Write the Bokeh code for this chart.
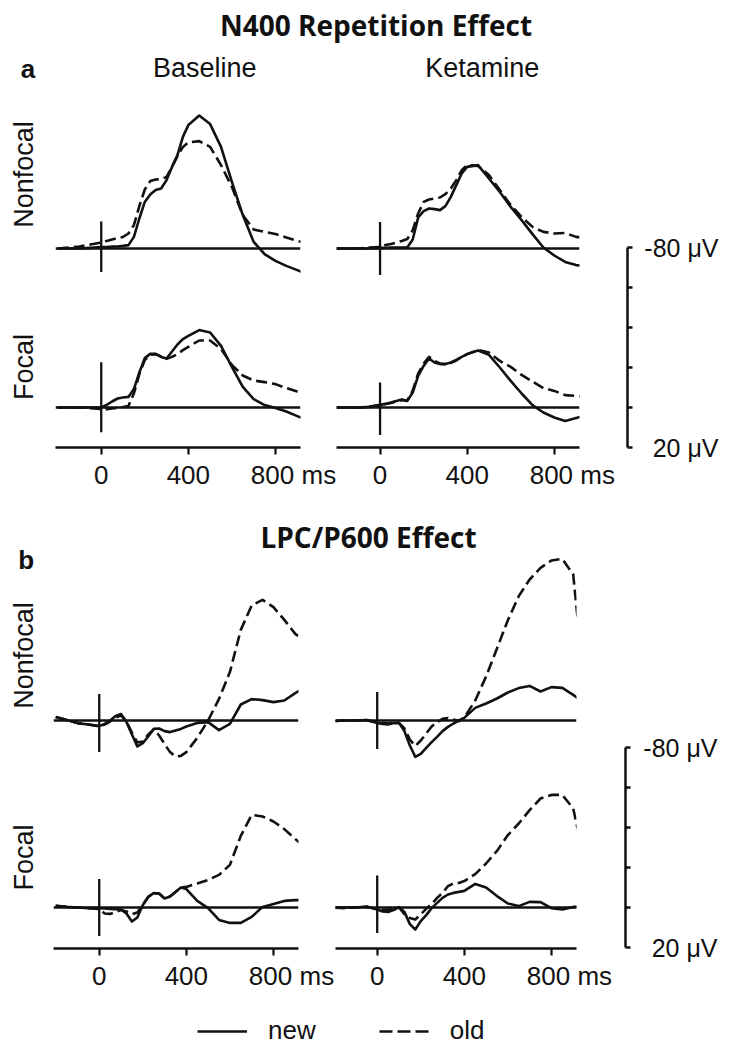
import math
from bokeh.plotting import figure
from bokeh.layouts import row, column
from bokeh.models import Range1d, Span, FixedTicker, Legend, LegendItem
from bokeh.core.properties import value
from bokeh.embed import file_html
from bokeh.resources import INLINE

# ---------------- data (µV, negative plotted up) ----------------
times_ms = [-200, -150, -100, -50, 0, 25, 50, 75, 100, 125, 150, 175, 200, 225, 250, 275,
            300, 325, 350, 375, 400, 450, 500, 550, 600, 650, 700, 750, 800, 850, 900, 920]

# a: N400 repetition effect
a_base_nonfocal_new = [0, 0, 0, -0.3, -0.7, -0.7, -1, -1, -1.3, -1.7, -5.8, -15, -23.3, -27, -29.2, -30,
                       -34.2, -40.8, -46.7, -55.8, -61.7, -66.5, -62.2, -50.8, -33.3, -16.7, -3.3, 2.8, 6.2, 8.7, 10.8, 11.7]
a_base_nonfocal_old = [0, -0.5, -1, -2, -3, -3.8, -4.5, -5.2, -5.8, -7.5, -11.7, -21.2, -29.5, -33.7, -34.5, -34.7,
                       -35.8, -40.8, -46.2, -50.8, -53, -53.7, -50.8, -41.7, -30.8, -16.7, -9.5, -8.3, -7.2, -5.5, -3.8, -3.3]
a_ket_nonfocal_new = [0, 0, 0, 0, -0.3, -0.3, -0.5, -0.5, -0.5, -0.5, -4.5, -15.5, -18.7, -20, -19.7, -19.2,
                      -21.2, -25.8, -31.7, -37.5, -40.8, -41.7, -35, -28.3, -20.8, -14.2, -7.2, -0.5, 3.5, 6.7, 8.3, 8.5]
a_ket_nonfocal_old = [0, 0, 0, -0.5, -0.8, -1.7, -2.3, -3, -3.8, -4.7, -9.2, -17.5, -23.3, -24.5, -25, -25.5,
                      -27.2, -30, -34.2, -39.2, -41.7, -41.3, -36.7, -29.2, -21.7, -15.8, -10.8, -8.3, -7.5, -7.8, -5.8, -5.5]
a_base_focal_new = [0, 0, 0, 0, 0, -1.3, -3, -4.5, -5, -5.3, -9.2, -17.5, -24.7, -26.8, -26.8, -25.3,
                    -24.5, -28, -31.5, -34.2, -35.8, -38.7, -37.5, -30.8, -20.3, -10.3, -4.2, -1.2, 0.2, 2, 4.3, 5.2]
a_base_focal_old = [0, 0, 0, 0.3, 0.8, 0.8, 0.5, 0.2, -0.2, -0.8, -7, -16.7, -23.7, -26.3, -26.7, -25.5,
                    -24.3, -25.3, -26.7, -28.7, -30.3, -33.5, -33.5, -29.2, -21.3, -16, -13.5, -12.7, -11.7, -9.7, -8, -7.7]
a_ket_focal_new = [0, 0, 0, -0.3, -1.3, -1.8, -2.5, -3.3, -4, -3.3, -7.5, -15.8, -20.8, -24.5, -22.5, -21.7,
                   -21.7, -22.5, -23.8, -25.3, -26.7, -28.5, -26.3, -20, -13.3, -7, -1.2, 2.5, 5, 6.7, 5.3, 4.7]
a_ket_focal_old = [0, 0, 0, -0.3, -1.2, -1.7, -2.3, -3, -3.7, -3.5, -8.5, -17, -22, -25.3, -23.3, -22,
                   -21.7, -22.3, -23.5, -25.3, -26.7, -28.7, -27.5, -23.3, -20.3, -16.3, -13, -9.7, -8.3, -6.2, -5.8, -5.5]

# b: LPC/P600 effect
b_base_nonfocal_new = [-1.8, -0.3, 1.3, 2, 2.8, 1.7, 0, -2.3, -3.2, 0.8, 7, 13, 11.3, 8, 4.2, 4,
                       5.3, 5.8, 5, 4.2, 3, 1.2, 0.8, 4.8, 1.7, -8, -10.7, -10.2, -9.2, -10, -13.7, -15]
b_base_nonfocal_old = [-1.8, -0.3, 1.3, 2, 2.8, 2, 0.5, -1.5, -2.5, 0.5, 6, 11, 10.5, 7, 4.5, 7.5,
                       11.7, 15.8, 18, 17.7, 15.8, 8.7, 0, -10.8, -24.2, -45.3, -57.5, -60.3, -56.7, -50.3, -43.3, -41.7]
b_ket_nonfocal_new = [0.3, 0, 0, -0.2, 1.2, 1.7, 2, 1.3, 1.2, 5.3, 12.5, 18.2, 16.7, 13.7, 10.8, 8.2,
                      5.3, 3.2, 1.5, 0, -1.3, -6.3, -8.5, -11, -14, -16.2, -17.3, -14.5, -16.7, -16.3, -12.8, -11.3]
b_ket_nonfocal_old = [0.3, 0, 0, -0.2, 0.8, 1.2, 1.5, 1, 1.2, 4, 9.5, 12.8, 10, 6.5, 3, 0.8,
                      -0.8, -1.2, -0.5, 0.3, -1.5, -10, -22, -36, -50.2, -62.2, -70.5, -76.3, -80, -80.8, -73, -51.3]
b_base_focal_new = [-0.8, -0.3, 0, 0.3, 0.3, 0.5, 0.7, 0.8, 1, 3, 7, 5, -1.3, -5.3, -7.2, -7,
                    -4.5, -5.5, -7.7, -10, -9.2, -3.3, 0.3, 6.2, 7.7, 7.7, 4.7, -0.3, -1.7, -3.3, -3.7, -3.7]
b_base_focal_old = [-0.8, -0.3, 0, 0.3, 0.8, 3, 3.2, 2.3, 1.3, 2, 3.3, 2.5, -1.3, -5.3, -7.2, -7,
                    -4.5, -5.5, -7.7, -10, -10.3, -12, -13.8, -16.3, -21.3, -35.8, -46.3, -45.5, -43, -39.2, -34.2, -32.5]
b_ket_focal_new = [0, 0, 0, -0.5, 1, 2, 2.2, 1.3, -0.2, 2.2, 8.3, 11, 6.8, 3.8, 0.3, -2.3,
                   -4.8, -6.5, -7.3, -7.8, -8.3, -11.8, -10, -5.7, -2, -0.7, -2.8, -2.7, 0.3, 1, -0.3, -0.3]
b_ket_focal_old = [0, 0.3, 0, -0.3, 0.7, 1.2, 1.2, 0.3, 0, 3.3, 5.2, 6, 3.3, 0.7, -1.8, -4.8,
                   -7.3, -10.7, -12, -12.3, -13.2, -16.7, -22, -28.3, -36.2, -42, -48.7, -54.5, -56.3, -56.3, -49.5, -39.5]

# stimulus-onset marker extent per panel (µV): a_BN, a_KN, a_BF, a_KF, b_BN, b_KN, b_BF, b_KF
onset_ms = 0
marker_top = [-13.5, -13.3, -22.6, -12.5, -13.3, -14.2, -14.3, -16]
marker_bottom = [11.8, 13.3, 12.4, 13.7, 15.8, 14.2, 14.3, 12.8]

tick_ms = [0, 400, 800]
tick_labels = ["0", "400", "\u00a0" * 5 + "800 ms"]
scale_ticks = [-80, -60, -40, -20, 0, 20]
scale_label_values = [-80, 20]
scale_labels = ["-80 \u03bcV", "20 \u03bcV"]
section_titles = ["N400 Repetition Effect", "LPC/P600 Effect"]
section_letters = ["a", "b"]
column_titles = ["Baseline", "Ketamine"]
row_titles = ["Nonfocal", "Focal"]
legend_labels = ["new", "old"]

# ---------------- style / layout ----------------
INK = "#111111"
SANS = "Liberation Sans"
PPU = 2.0             # px per µV
MS_PX = 245 / 1125.0  # px per ms
LW = 2.6
DASH = "11 5"


def base_fig(w, h, xr, yr, right=0, bottom=0, xaxis=False):
    p = figure(width=w, height=h, x_range=xr, y_range=yr, title=None,
               toolbar_location=None, output_backend="svg",
               x_axis_location="below" if xaxis else None, y_axis_location=None,
               min_border_left=0, min_border_right=right,
               min_border_top=0, min_border_bottom=bottom)
    p.outline_line_color = None
    p.background_fill_color = "white"
    p.border_fill_color = "white"
    for g in p.grid:
        g.visible = False
    return p


def panel(new, old, k, x_start, frame_w, frame_top, frame_bot, zero_px, right, bottom=0, xaxis=False):
    fh = frame_bot - frame_top
    yr = Range1d(start=(frame_bot - zero_px) / PPU, end=-(zero_px - frame_top) / PPU)
    xr = Range1d(x_start, x_start + frame_w / MS_PX)
    p = base_fig(frame_w + right, fh + bottom, xr, yr, right=right, bottom=bottom, xaxis=xaxis)
    p.add_layout(Span(location=0, dimension="width", line_color=INK, line_width=2.3))
    p.segment(x0=[onset_ms], x1=[onset_ms], y0=[marker_top[k]], y1=[marker_bottom[k]],
              line_color=INK, line_width=2.3)
    p.line(times_ms, old, line_color=INK, line_width=LW, line_dash=DASH, line_join="round")
    p.line(times_ms, new, line_color=INK, line_width=LW, line_join="round")
    if xaxis:
        ax = p.xaxis[0]
        ax.ticker = FixedTicker(ticks=tick_ms)
        ax.major_label_overrides = {t: s for t, s in zip(tick_ms, tick_labels)}
        ax.axis_line_width = 2.4
        ax.axis_line_color = INK
        ax.major_tick_line_width = 2.2
        ax.major_tick_line_color = INK
        ax.major_tick_out = 7
        ax.major_tick_in = 0
        ax.minor_tick_line_color = None
        ax.major_label_text_font = SANS
        ax.major_label_text_font_size = "26px"
        ax.major_label_text_color = INK
        ax.major_label_standoff = 5
    return p


def text_fig(w, h):
    return base_fig(w, h, Range1d(0, w), Range1d(0, h))


def put(p, x, y, s, size="27px", font=SANS, bold=False, align="center", angle=0.0):
    p.text(x=[x], y=[y], text=[s], text_font=value(font), text_font_size=size,
           text_font_style="bold" if bold else "normal", text_align=align,
           text_baseline="middle", angle=angle, text_color=INK)


def scale_fig(w, h, top_px, zero_px, bar_x, label_right):
    yr = Range1d(start=(top_px + h - zero_px) / PPU, end=-(zero_px - top_px) / PPU)
    p = base_fig(w, h, Range1d(0, w), yr)
    p.segment(x0=[bar_x], x1=[bar_x], y0=[min(scale_ticks)], y1=[max(scale_ticks)],
              line_color=INK, line_width=2.5)
    n = len(scale_ticks)
    p.segment(x0=[bar_x] * n, x1=[bar_x + 5] * n, y0=scale_ticks, y1=scale_ticks,
              line_color=INK, line_width=2.3)
    p.text(x=[label_right] * len(scale_labels), y=scale_label_values, text=scale_labels,
           text_font=value(SANS), text_font_size="25px", text_align="right",
           text_baseline="middle", text_color=INK)
    return p


# ---------------- section a (page y 0..500) ----------------
lab_a = text_fig(55, 500)
put(lab_a, 27.5, 432, section_letters[0], size="26px", bold=True)
put(lab_a, 23, 326, row_titles[0], angle=math.pi / 2)
put(lab_a, 23, 133.5, row_titles[1], angle=math.pi / 2)

head_a = text_fig(567, 100)
put(head_a, 320.5, 76, section_titles[0], size="28px", font="Open Sans", bold=True)
put(head_a, 149.2, 32.4, column_titles[0])
put(head_a, 426.8, 32.4, column_titles[1])

a_bn = panel(a_base_nonfocal_new, a_base_nonfocal_old, 0, -210, 245, 100, 280, 248, 36)
a_kn = panel(a_ket_nonfocal_new, a_ket_nonfocal_old, 1, -200, 243, 100, 280, 248, 43)
a_bf = panel(a_base_focal_new, a_base_focal_old, 2, -210, 245, 280, 447, 407, 36, bottom=53, xaxis=True)
a_kf = panel(a_ket_focal_new, a_ket_focal_old, 3, -200, 243, 280, 447, 407, 43, bottom=53, xaxis=True)

sc_a = scale_fig(102, 500, 0, 407, 5, 96)

sec_a = row(lab_a, column(head_a, row(a_bn, a_kn), row(a_bf, a_kf)), sc_a)

# ---------------- section b (page y 500..1000) ----------------
lab_b = text_fig(53, 500)
put(lab_b, 25.8, 441, section_letters[1], size="26px", bold=True)
put(lab_b, 23, 345, row_titles[0], angle=math.pi / 2)
put(lab_b, 23, 143, row_titles[1], angle=math.pi / 2)

head_b = text_fig(567, 57)
put(head_b, 315, 21, section_titles[1], size="28px", font="Open Sans", bold=True)

b_bn = panel(b_base_nonfocal_new, b_base_nonfocal_old, 4, -210, 245, 557, 780, 720, 37)
b_kn = panel(b_ket_nonfocal_new, b_ket_nonfocal_old, 5, -191.5, 241, 557, 780, 720, 44)
b_bf = panel(b_base_focal_new, b_base_focal_old, 6, -210, 245, 780, 948, 907, 37, bottom=52, xaxis=True)
b_kf = panel(b_ket_focal_new, b_ket_focal_old, 7, -191.5, 241, 780, 948, 907, 44, bottom=52, xaxis=True)

sc_b = scale_fig(104, 500, 500, 907, 5, 97)

sec_b = row(lab_b, column(head_b, row(b_bn, b_kn), row(b_bf, b_kf)), sc_b)

# ---------------- legend (page y 1000..1048) ----------------
lg = text_fig(724, 48)
r_new = lg.line(x=[-100, -90], y=[-100, -100], line_color=INK, line_width=LW)
r_old = lg.line(x=[-100, -90], y=[-100, -100], line_color=INK, line_width=LW, line_dash="13 5")
legend = Legend(items=[LegendItem(label=legend_labels[0], renderers=[r_new]),
                       LegendItem(label=legend_labels[1], renderers=[r_old])],
                location=(197, 2), orientation="horizontal",
                glyph_width=50, glyph_height=26, label_standoff=21, spacing=63,
                padding=0, margin=0, border_line_color=None, background_fill_alpha=0,
                label_text_font=SANS, label_text_font_size="26px", label_text_color=INK)
lg.add_layout(legend)

page = column(sec_a, sec_b, lg)

open("out.html", "w").write(file_html(page, INLINE))
